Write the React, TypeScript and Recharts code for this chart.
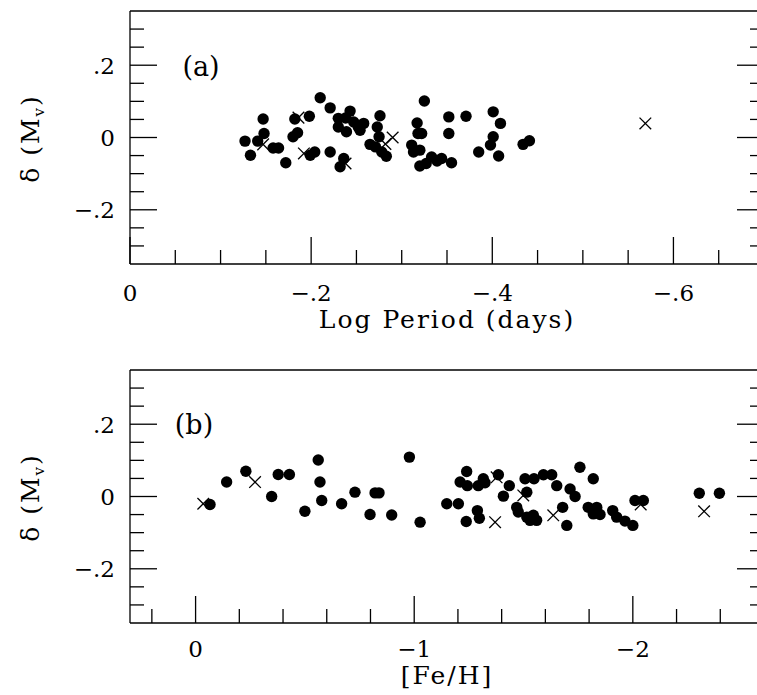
import { ScatterChart, Scatter, XAxis, YAxis } from 'recharts';

// panel (a): residual delta(Mv) against log period, filled dots and crosses
const periodDots: [number, number][] = [
  [-0.127, -0.01], [-0.133, -0.049], [-0.141, -0.01], [-0.147, 0.051], [-0.148, 0.011],
  [-0.158, -0.029], [-0.164, -0.029], [-0.172, -0.07], [-0.18, 0.002], [-0.185, 0.013],
  [-0.182, 0.051], [-0.198, 0.059], [-0.199, -0.049], [-0.204, -0.04], [-0.21, 0.11],
  [-0.221, 0.082], [-0.221, -0.04], [-0.23, 0.053], [-0.23, 0.029], [-0.232, -0.081],
  [-0.236, -0.058], [-0.243, 0.073], [-0.238, 0.054], [-0.247, 0.043], [-0.239, 0.016],
  [-0.252, 0.029], [-0.258, 0.039], [-0.254, 0.02], [-0.265, -0.019], [-0.271, -0.026],
  [-0.276, 0.06], [-0.273, 0.029], [-0.275, 0.002], [-0.278, -0.04], [-0.283, -0.052],
  [-0.311, -0.021], [-0.313, -0.04], [-0.317, 0.04], [-0.318, 0.011], [-0.322, 0.011],
  [-0.32, -0.035], [-0.32, -0.079], [-0.325, 0.101], [-0.327, -0.072], [-0.333, -0.054],
  [-0.339, -0.065], [-0.344, -0.058], [-0.355, -0.07], [-0.352, 0.057], [-0.352, 0.011],
  [-0.371, 0.059], [-0.385, -0.04], [-0.401, 0.071], [-0.409, 0.039], [-0.401, 0.002],
  [-0.398, -0.021], [-0.407, -0.051], [-0.434, -0.019], [-0.441, -0.009],
];
const periodCrosses: [number, number][] = [
  [-0.147, -0.019], [-0.186, 0.055], [-0.192, -0.044], [-0.238, -0.072],
  [-0.282, -0.018], [-0.29, 0.0], [-0.569, 0.039],
];

// panel (b): residual delta(Mv) against [Fe/H]
const fehDots: [number, number][] = [
  [-0.066, -0.022], [-0.142, 0.04], [-0.23, 0.07], [-0.348, 0.0], [-0.378, 0.061],
  [-0.429, 0.061], [-0.5, -0.041], [-0.561, 0.101], [-0.569, 0.04], [-0.577, -0.011],
  [-0.668, -0.02], [-0.729, 0.012], [-0.798, -0.05], [-0.821, 0.01], [-0.839, 0.01],
  [-0.897, -0.051], [-0.978, 0.109], [-1.027, -0.071], [-1.149, -0.02], [-1.202, -0.02],
  [-1.24, 0.069], [-1.21, 0.04], [-1.243, 0.03], [-1.293, 0.03], [-1.316, 0.049],
  [-1.324, 0.038], [-1.385, 0.06], [-1.435, 0.03], [-1.408, 0.001], [-1.289, -0.039],
  [-1.298, -0.06], [-1.238, -0.069], [-1.507, 0.049], [-1.548, 0.049], [-1.591, 0.06],
  [-1.629, 0.06], [-1.515, 0.012], [-1.469, -0.03], [-1.476, -0.043], [-1.515, -0.057],
  [-1.545, -0.052], [-1.56, -0.066], [-1.53, -0.066], [-1.652, 0.03], [-1.679, -0.03],
  [-1.698, -0.08], [-1.713, 0.021], [-1.736, 0.0], [-1.758, 0.081], [-1.819, 0.049],
  [-1.796, -0.03], [-1.835, -0.03], [-1.819, -0.048], [-1.85, -0.05], [-1.908, -0.039],
  [-1.926, -0.057], [-1.964, -0.068], [-2.0, -0.08], [-2.01, -0.011], [-2.048, -0.011],
  [-2.304, 0.009], [-2.396, 0.009],
];
const fehCrosses: [number, number][] = [
  [-0.035, -0.02], [-0.272, 0.04], [-1.377, 0.053], [-1.37, -0.071],
  [-1.499, 0.003], [-1.636, -0.052], [-2.036, -0.022], [-2.326, -0.041],
];

const periodTicks = [0, -0.05, -0.1, -0.15, -0.2, -0.25, -0.3, -0.35, -0.4, -0.45, -0.5, -0.55, -0.6, -0.65];
const periodMajor = [0, -0.2, -0.4, -0.6];
const fehTicks = [0.2, 0, -0.2, -0.4, -0.6, -0.8, -1, -1.2, -1.4, -1.6, -1.8, -2, -2.2, -2.4];
const fehMajor = [0, -1, -2];
const deltaTicks = [0.3, 0.25, 0.2, 0.15, 0.1, 0.05, 0, -0.05, -0.1, -0.15, -0.2, -0.25, -0.3];
const deltaMajor = [0.2, 0, -0.2];

const FONT = '"DejaVu Serif", serif';
const BIG = 27;
const SMALL = 14;
const axisLine = { stroke: '#000', strokeWidth: 1.3 };

const fmt = (v: number) => {
  if (Math.abs(v) < 1e-9) return '0';
  const s = Math.abs(v).toString().replace(/^0\./, '.');
  return (v < 0 ? '\u2212' : '') + s;
};
const isMajor = (list: number[], v: number) => list.some((m) => Math.abs(m - v) < 1e-6);

const toPoints = (rows: [number, number][]) => rows.map(([x, y]) => ({ x, y }));

const Dot = (p: any) => <circle cx={p.cx} cy={p.cy} r={5.7} fill='#000' />;
const Cross = (p: any) => {
  const s = 5.8;
  return (
    <g stroke='#000' strokeWidth={1.3}>
      <line x1={p.cx - s} y1={p.cy - s} x2={p.cx + s} y2={p.cy + s} />
      <line x1={p.cx - s} y1={p.cy + s} x2={p.cx + s} y2={p.cy - s} />
    </g>
  );
};

function Panel({
  dots, crosses, xDomain, xTicks, xMajor, xTitle, tag, tagX, tagY, top, mTop, mBottom, labelDy, titleDy,
}: any) {
  const bottomTick = (p: any) => {
    const major = isMajor(xMajor, p.payload.value);
    return (
      <g key={`b-${p.index}`}>
        <line x1={p.x} x2={p.x} y1={p.y} y2={p.y - (major ? BIG : SMALL)} stroke='#000' strokeWidth={1.3} />
        {major && (
          <text x={p.x} y={p.y + labelDy} textAnchor='middle' fontFamily={FONT} fontSize={23} fill='#000'>
            {fmt(p.payload.value)}
          </text>
        )}
      </g>
    );
  };
  const topTick = (p: any) => {
    const major = isMajor(xMajor, p.payload.value);
    return (
      <line key={`t-${p.index}`} x1={p.x} x2={p.x} y1={p.y} y2={p.y + (major ? BIG : SMALL)} stroke='#000' strokeWidth={1.3} />
    );
  };
  const leftTick = (p: any) => {
    const major = isMajor(deltaMajor, p.payload.value);
    return (
      <g key={`l-${p.index}`}>
        <line x1={p.x} x2={p.x + (major ? BIG : SMALL)} y1={p.y} y2={p.y} stroke='#000' strokeWidth={1.3} />
        {major && (
          <text x={p.x - 15} y={p.y + 8.5} textAnchor='end' fontFamily={FONT} fontSize={23} fill='#000'>
            {fmt(p.payload.value)}
          </text>
        )}
      </g>
    );
  };
  const rightTick = (p: any) => {
    const major = isMajor(deltaMajor, p.payload.value);
    return (
      <line key={`r-${p.index}`} x1={p.x} x2={p.x - (major ? BIG : SMALL)} y1={p.y} y2={p.y} stroke='#000' strokeWidth={1.3} />
    );
  };

  return (
    <div style={{ position: 'absolute', left: 0, top }}>
      <ScatterChart width={780} height={345} margin={{ top: mTop, right: 8, bottom: mBottom, left: 70 }}>
        <XAxis
          xAxisId={0}
          orientation='bottom'
          type='number'
          dataKey='x'
          domain={xDomain}
          reversed
          allowDataOverflow
          ticks={xTicks}
          interval={0}
          tickSize={0}
          tickMargin={0}
          tickLine={false}
          axisLine={axisLine}
          tick={bottomTick}
          height={60}
          label={{
            content: (lp: any) => (
              <text
                x={lp.viewBox.x + lp.viewBox.width / 2}
                y={lp.viewBox.y + titleDy}
                textAnchor='middle'
                fontFamily={FONT}
                fontSize={25}
                letterSpacing={2}
                fill='#000'
              >
                {xTitle}
              </text>
            ),
          }}
        />
        <XAxis
          xAxisId='top'
          orientation='top'
          type='number'
          domain={xDomain}
          reversed
          allowDataOverflow
          ticks={xTicks}
          interval={0}
          tickSize={0}
          tickMargin={0}
          tickLine={false}
          axisLine={axisLine}
          tick={topTick}
          height={4}
          label={{
            content: () => (
              <text x={tagX} y={tagY} textAnchor='middle' fontFamily={FONT} fontSize={27} fill='#000'>
                {tag}
              </text>
            ),
          }}
        />
        <YAxis
          yAxisId={0}
          type='number'
          dataKey='y'
          domain={[-0.35, 0.35]}
          allowDataOverflow
          ticks={deltaTicks}
          interval={0}
          tickSize={0}
          tickMargin={0}
          tickLine={false}
          axisLine={axisLine}
          tick={leftTick}
          width={60}
          label={{
            content: (lp: any) => {
              const cy = lp.viewBox.y + lp.viewBox.height / 2 + 1;
              return (
                <text
                  x={39}
                  y={cy}
                  transform={`rotate(-90, 39, ${cy})`}
                  textAnchor='middle'
                  fontFamily={FONT}
                  fontSize={25}
                  letterSpacing={2}
                  fill='#000'
                >
                  <tspan>δ (M</tspan>
                  <tspan fontSize={15} dy={5}>v</tspan>
                  <tspan dy={-5}>)</tspan>
                </text>
              );
            },
          }}
        />
        <YAxis
          yAxisId='right'
          orientation='right'
          type='number'
          domain={[-0.35, 0.35]}
          allowDataOverflow
          ticks={deltaTicks}
          interval={0}
          tickSize={0}
          tickMargin={0}
          tickLine={false}
          axisLine={axisLine}
          tick={rightTick}
          width={8}
        />
        <Scatter data={toPoints(crosses)} shape={Cross} isAnimationActive={false} />
        <Scatter data={toPoints(dots)} shape={Dot} isAnimationActive={false} />
      </ScatterChart>
    </div>
  );
}

export default function App() {
  return (
    <div
      style={{
        position: 'absolute',
        left: 0,
        top: 0,
        width: 757,
        height: 695,
        overflow: 'hidden',
        background: '#fff',
      }}
    >
      <Panel
        dots={periodDots}
        crosses={periodCrosses}
        xDomain={[-0.7, 0]}
        xTicks={periodTicks}
        xMajor={periodMajor}
        xTitle='Log Period (days)'
        tag='(a)'
        tagX={201}
        tagY={76}
        top={0}
        mTop={7}
        mBottom={21}
        labelDy={37}
        titleDy={64}
      />
      <Panel
        dots={fehDots}
        crosses={fehCrosses}
        xDomain={[-2.6, 0.3]}
        xTicks={fehTicks}
        xMajor={fehMajor}
        xTitle='[Fe/H]'
        tag='(b)'
        tagX={194}
        tagY={84}
        top={350}
        mTop={16}
        mBottom={12}
        labelDy={34}
        titleDy={61}
      />
    </div>
  );
}
